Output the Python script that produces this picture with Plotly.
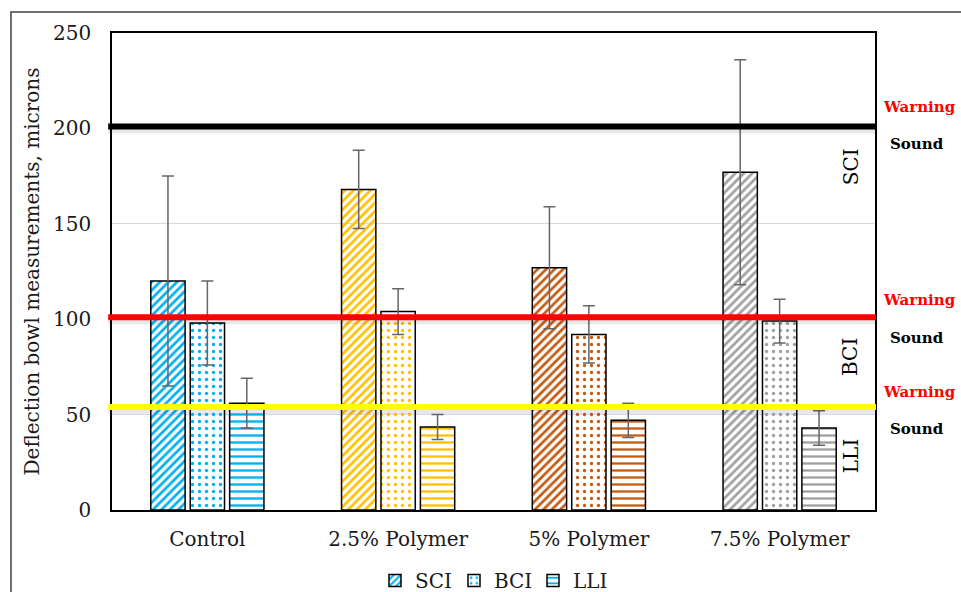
import plotly.graph_objects as go

categories = ["Control", "2.5% Polymer", "5% Polymer", "7.5% Polymer"]
series_names = ["SCI", "BCI", "LLI"]
sci_vals = [120, 168, 127, 177]
sci_err = [55, 20.5, 32, 59]
bci_vals = [98, 104, 92, 99]
bci_err = [22, 12, 15, 11.5]
lli_vals = [56, 43.5, 47, 43]
lli_err = [13, 6.6, 9, 9]
point_colors = ["#00B0F0", "#FFC000", "#C55A11", "#A0A0A0"]

thresholds = [201, 101, 54]           # SCI, BCI, LLI warning/sound limits
threshold_colors = ["#000000", "#FF0000", "#FFFF00"]
zone_labels = ["SCI", "BCI", "LLI"]
zone_label_y = [180, 80, 28]
warning_y = [211, 110, 62]
sound_y = [192, 90, 42.5]

FONT = "DejaVu Serif"
TXT = "#1a1a1a"

values = [sci_vals, bci_vals, lli_vals]
errors = [sci_err, bci_err, lli_err]
patterns = [
    dict(shape="/", size=6, solidity=0.45),
    dict(shape=".", size=7, solidity=0.18),
    dict(shape="-", size=7, solidity=0.33),
]

fig = go.Figure()
for name, v, e, p in zip(series_names, values, errors, patterns):
    fig.add_trace(go.Bar(
        name=name, x=categories, y=v,
        marker=dict(
            color=point_colors,
            line=dict(color="black", width=1.5),
            pattern=dict(shape=p["shape"], size=p["size"], solidity=p["solidity"],
                         fgcolor=point_colors, bgcolor="white", fillmode="replace"),
        ),
        error_y=dict(type="data", array=e, visible=True, color="#666666",
                     thickness=1.5, width=6),
    ))

shapes = []
# outer chart frame
shapes.append(dict(type="rect", xref="paper", yref="paper",
                   x0=-0.1324, x1=1.2, y0=-0.3, y1=1.044,
                   line=dict(color="#404040", width=1.5), layer="below"))
for t, c in zip(thresholds, threshold_colors):
    shapes.append(dict(type="line", xref="paper", yref="y", x0=-0.005, x1=1.0013,
                       y0=t - 1.8, y1=t - 1.8,
                       line=dict(color="rgba(0,0,0,0.09)", width=7)))
    shapes.append(dict(type="line", xref="paper", yref="y", x0=-0.005, x1=1.0013,
                       y0=t, y1=t, line=dict(color=c, width=6)))

annotations = []
for lab, ly in zip(zone_labels, zone_label_y):
    annotations.append(dict(text=lab, xref="paper", yref="y", x=0.968, y=ly,
                            xanchor="center", yanchor="middle",
                            textangle=-90, showarrow=False,
                            font=dict(family=FONT, size=20, color="black")))
for wy, sy in zip(warning_y, sound_y):
    annotations.append(dict(text="<b>Warning</b>", xref="paper", yref="y", x=1.0577, y=wy,
                            xanchor="center", yanchor="middle",
                            showarrow=False, font=dict(family=FONT, size=15, color="#FF0000")))
    annotations.append(dict(text="<b>Sound</b>", xref="paper", yref="y", x=1.0555, y=sy,
                            xanchor="center", yanchor="middle",
                            showarrow=False, font=dict(family=FONT, size=15, color="black")))

fig.update_layout(
    width=961, height=592,
    margin=dict(l=112, r=86, t=33, b=82, autoexpand=False),
    paper_bgcolor="white", plot_bgcolor="white",
    barmode="group", bargap=0.38, bargroupgap=0.13,
    font=dict(family=FONT, size=20, color=TXT),
    shapes=shapes, annotations=annotations,
    legend=dict(orientation="h", x=0.5, xanchor="center", y=-0.107, yanchor="top",
                font=dict(family=FONT, size=20, color=TXT),
                entrywidth=34, entrywidthmode="pixels",
                traceorder="normal"),
    xaxis=dict(showline=True, mirror=True, linecolor="black", linewidth=1.5,
               ticks="", ticklabelstandoff=10, showgrid=False,
               tickfont=dict(family=FONT, size=20, color=TXT)),
    yaxis=dict(range=[0, 250], dtick=50, showline=True, mirror=True, linecolor="black",
               linewidth=1.5, ticks="", ticklabelstandoff=15,
               tickfont=dict(family=FONT, size=20, color=TXT),
               gridcolor="#D9D9D9", gridwidth=1, zeroline=False,
               title=dict(text="Deflection bowl measurements, microns", standoff=8,
                          font=dict(family=FONT, size=20, color=TXT))),
)

fig.write_html("out.html")
